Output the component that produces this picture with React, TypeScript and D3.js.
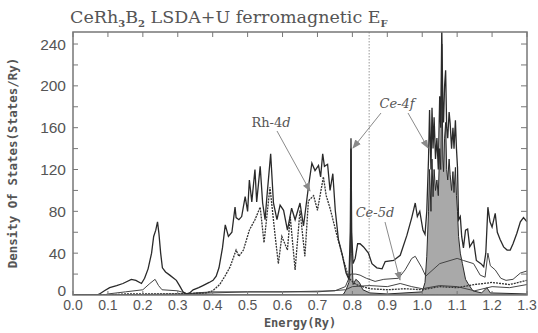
import React from "react";
import * as d3 from "d3";

type Pt = [number, number];

// Energy (Ry) / DOS (states/Ry) pairs
const totalDos: Pt[] = [
  [0, 0], [0.07, 0], [0.076, 1], [0.09, 4], [0.105, 7], [0.125, 9], [0.143, 11], [0.167, 15], [0.18, 14],
  [0.196, 11], [0.205, 16], [0.215, 25], [0.225, 40], [0.231, 56], [0.237, 62], [0.242, 70], [0.246, 59],
  [0.251, 40], [0.256, 26], [0.265, 22], [0.277, 19], [0.296, 14], [0.305, 9], [0.315, 3], [0.325, 1],
  [0.334, 2], [0.344, 5], [0.36, 7], [0.372, 9], [0.39, 12], [0.401, 14], [0.41, 18], [0.418, 26],
  [0.428, 45], [0.436, 67], [0.445, 56], [0.455, 60], [0.464, 84], [0.467, 74], [0.475, 72], [0.483, 75],
  [0.493, 94], [0.5, 80], [0.505, 110], [0.512, 89], [0.521, 120], [0.526, 89], [0.536, 123], [0.543, 88],
  [0.55, 72], [0.555, 93], [0.566, 135], [0.574, 88], [0.584, 72], [0.593, 86], [0.603, 81], [0.614, 62],
  [0.626, 83], [0.636, 72], [0.65, 88], [0.66, 66], [0.674, 103], [0.684, 126], [0.693, 119], [0.703, 124],
  [0.709, 113], [0.715, 135], [0.72, 123], [0.729, 125], [0.736, 100], [0.744, 116], [0.751, 81], [0.76, 53],
  [0.77, 40], [0.782, 21], [0.79, 15], [0.794, 60], [0.796, 150], [0.798, 60], [0.802, 30], [0.808, 35],
  [0.815, 49], [0.822, 49], [0.832, 46], [0.846, 40], [0.856, 30], [0.87, 26], [0.885, 25], [0.894, 32],
  [0.918, 33], [0.937, 38], [0.956, 57], [0.97, 74], [0.98, 88], [0.986, 75], [0.993, 80], [1.002, 62],
  [1.008, 58], [1.013, 80], [1.018, 130], [1.021, 177], [1.025, 120], [1.028, 179], [1.031, 140],
  [1.034, 170], [1.038, 130], [1.042, 150], [1.046, 120], [1.05, 190], [1.053, 160], [1.056, 255],
  [1.059, 180], [1.061, 165], [1.064, 200], [1.067, 215], [1.07, 160], [1.073, 150], [1.077, 175],
  [1.08, 164], [1.084, 140], [1.088, 160], [1.091, 140], [1.095, 167], [1.098, 140], [1.101, 122],
  [1.104, 72], [1.109, 75], [1.113, 56], [1.118, 45], [1.124, 62], [1.13, 63], [1.136, 46], [1.147, 52],
  [1.155, 33], [1.168, 30], [1.176, 27], [1.182, 40], [1.188, 84], [1.194, 70], [1.2, 65], [1.209, 78],
  [1.215, 60], [1.223, 53], [1.233, 46], [1.243, 43], [1.252, 43], [1.26, 49], [1.271, 59], [1.281, 70],
  [1.29, 74], [1.3, 70],
];

const rh4dDos: Pt[] = [
  [0, 0], [0.1, 0], [0.15, 1], [0.2, 1], [0.3, 1], [0.38, 2], [0.4, 4], [0.42, 10], [0.435, 18], [0.45, 27],
  [0.467, 43], [0.475, 37], [0.488, 43], [0.505, 62], [0.521, 72], [0.536, 84], [0.547, 50], [0.564, 103],
  [0.579, 56], [0.588, 30], [0.598, 56], [0.614, 43], [0.622, 75], [0.636, 24], [0.65, 81], [0.664, 37],
  [0.674, 90], [0.689, 95], [0.7, 81], [0.717, 113], [0.725, 95], [0.736, 83], [0.755, 58], [0.775, 33],
  [0.79, 16], [0.81, 10], [0.85, 6], [0.9, 5], [0.95, 6], [1.0, 5], [1.05, 8], [1.1, 7], [1.15, 10],
  [1.2, 12], [1.25, 10], [1.3, 14],
];

const ce4fDos: Pt[] = [
  [0, 0], [0.77, 0], [0.775, 1], [0.782, 5], [0.79, 12], [0.794, 40], [0.796, 140], [0.798, 40],
  [0.802, 10], [0.81, 15], [0.82, 12], [0.83, 5], [0.85, 2], [0.9, 1], [1.0, 3], [1.008, 12], [1.013, 37],
  [1.018, 80], [1.021, 120], [1.025, 80], [1.028, 130], [1.031, 94], [1.034, 120], [1.038, 100],
  [1.042, 110], [1.046, 95], [1.05, 140], [1.053, 120], [1.056, 240], [1.059, 130], [1.061, 118],
  [1.064, 150], [1.067, 165], [1.07, 120], [1.073, 110], [1.077, 130], [1.08, 115], [1.084, 100],
  [1.088, 118], [1.091, 98], [1.095, 122], [1.098, 95], [1.101, 80], [1.104, 56], [1.109, 40],
  [1.115, 30], [1.124, 15], [1.131, 11], [1.145, 4], [1.17, 2], [1.185, 7], [1.195, 2], [1.3, 1],
];

const ce5dDos: Pt[] = [
  [0, 0], [0.1, 0], [0.3, 1], [0.4, 2], [0.5, 3], [0.7, 3], [0.78, 5], [0.8, 8], [0.85, 9], [0.9, 8],
  [0.937, 11], [0.97, 8], [1.0, 6], [1.05, 9], [1.1, 8], [1.15, 4], [1.2, 8], [1.25, 7], [1.3, 10],
];

const otherDos: Pt[] = [
  [0, 0], [0.09, 0], [0.1, 1], [0.15, 3], [0.2, 5], [0.22, 11], [0.235, 15], [0.245, 9], [0.255, 5],
  [0.3, 4], [0.33, 1], [0.35, 2], [0.4, 3], [0.5, 3], [0.6, 3], [0.75, 4], [0.78, 8], [0.795, 20],
  [0.81, 20], [0.822, 19], [0.84, 16], [0.865, 13], [0.89, 15], [0.932, 16], [0.951, 24], [0.97, 35],
  [0.98, 37], [0.999, 26], [1.01, 18], [1.05, 30], [1.1, 35], [1.118, 33], [1.147, 30], [1.166, 19],
  [1.18, 17], [1.188, 40], [1.195, 28], [1.209, 24], [1.225, 16], [1.24, 14], [1.26, 15], [1.281, 21],
  [1.3, 23],
];

const xTicks = [0, 0.1, 0.2, 0.3, 0.4, 0.5, 0.6, 0.7, 0.8, 0.9, 1.0, 1.1, 1.2, 1.3];
const yTickLabels = [0, 40, 80, 120, 160, 200, 240];
const yMinorTicks = [20, 40, 60, 80, 100, 120, 140, 160, 180, 200, 220, 240];
const fermiEnergy = 0.848;

const W = 538;
const H = 333;
const L = 73, R = 527, T = 32, B = 295;

export default function App() {
  const x = d3.scaleLinear().domain([0, 1.3]).range([L, R]);
  const y = d3.scaleLinear().domain([0, 251.5]).range([B, T]);
  const line = d3.line<Pt>().x((d) => x(d[0])).y((d) => y(d[1]));
  const area = d3.area<Pt>().x((d) => x(d[0])).y0(y(0)).y1((d) => y(d[1]));
  const axisColor = "#777";
  const textColor = "#555";
  const arrowColor = "#8a8a8a";

  return (
    <svg width={W} height={H} style={{ position: "absolute", left: 0, top: 0 }}>
      <defs>
        <clipPath id="plot">
          <rect x={L} y={T} width={R - L} height={B - T} />
        </clipPath>
        <marker id="ah" viewBox="0 0 10 10" refX="9" refY="5" markerWidth="9" markerHeight="9" orient="auto" markerUnits="userSpaceOnUse">
          <path d="M0,1 L10,5 L0,9 Z" fill={arrowColor} />
        </marker>
      </defs>
      <rect width={W} height={H} fill="#fff" />

      {/* title */}
      <text x={70} y={23} fontFamily="DejaVu Serif, serif" fontSize={17.5} fill={textColor}>
        CeRh<tspan fontSize={10} dy={4} fontWeight="bold">3</tspan>
        <tspan dy={-4}>B</tspan>
        <tspan fontSize={10} dy={4} fontWeight="bold">2</tspan>
        <tspan dy={-4}> LSDA+U ferromagnetic E</tspan>
        <tspan fontSize={10} dy={4} fontWeight="bold">F</tspan>
      </text>

      <g clipPath="url(#plot)">
        <line x1={x(fermiEnergy)} x2={x(fermiEnergy)} y1={T} y2={B} stroke="#999" strokeWidth={1} strokeDasharray="1.5,1.5" />
        <path d={area(ce4fDos) ?? ""} fill="#a9a9a9" stroke="#2a2a2a" strokeWidth={1} />
        <path d={line(otherDos) ?? ""} fill="none" stroke="#444" strokeWidth={1} />
        <path d={line(ce5dDos) ?? ""} fill="none" stroke="#444" strokeWidth={1} />
        <path d={line(rh4dDos) ?? ""} fill="none" stroke="#333" strokeWidth={1.3} strokeDasharray="2,1" />
        <path d={line(totalDos) ?? ""} fill="none" stroke="#2a2a2a" strokeWidth={1.3} />
      </g>

      {/* frame */}
      <rect x={L} y={T} width={R - L} height={B - T} fill="none" stroke={axisColor} strokeWidth={1.5} />

      {/* ticks */}
      {xTicks.map((t) => (
        <g key={"xt" + t}>
          <line x1={x(t)} x2={x(t)} y1={T} y2={T + 5} stroke={axisColor} strokeWidth={1} />
          <line x1={x(t)} x2={x(t)} y1={B} y2={B - 4} stroke={axisColor} strokeWidth={1} />
          <text x={x(t)} y={310} textAnchor="middle" fontFamily="Liberation Sans, Arial, sans-serif" fontSize={14} fill={textColor}>
            {t.toFixed(1)}
          </text>
        </g>
      ))}
      {yMinorTicks.map((t) => (
        <g key={"yt" + t}>
          <line x1={L} x2={L + 5} y1={y(t)} y2={y(t)} stroke={axisColor} strokeWidth={1} />
          <line x1={R} x2={R - 6} y1={y(t)} y2={y(t)} stroke={axisColor} strokeWidth={1} />
        </g>
      ))}
      {yTickLabels.map((t) => (
        <text key={"yl" + t} x={66} y={y(t) + (t === 0 ? 1 : 5.5)} textAnchor="end" fontFamily="Liberation Sans, Arial, sans-serif" fontSize={15.5} fill={textColor}>
          {t}
        </text>
      ))}

      {/* axis titles */}
      <text x={300} y={327} textAnchor="middle" fontFamily="DejaVu Sans Mono, monospace" fontSize={12} fontWeight="bold" fill={textColor}>
        Energy(Ry)
      </text>
      <text transform="translate(17,163) rotate(-90)" textAnchor="middle" fontFamily="DejaVu Sans Mono, monospace" fontSize={12.5} fontWeight="bold" fill={textColor}>
        Density Of States(States/Ry)
      </text>

      {/* annotations */}
      <text x={271} y={127} textAnchor="middle" fontFamily="DejaVu Serif, serif" fontSize={13} fill={textColor}>
        Rh-4<tspan fontStyle="italic">d</tspan>
      </text>
      <line x1={277} y1={131} x2={310} y2={191} stroke={arrowColor} strokeWidth={1} markerEnd="url(#ah)" />

      <text x={397} y={108} textAnchor="middle" fontFamily="DejaVu Serif, serif" fontSize={13} fontStyle="italic" fill={textColor}>
        Ce-4f
      </text>
      <line x1={381} y1={113} x2={353} y2={148} stroke={arrowColor} strokeWidth={1} markerEnd="url(#ah)" />
      <line x1={408} y1={113} x2={428} y2={148} stroke={arrowColor} strokeWidth={1} markerEnd="url(#ah)" />

      <text x={375} y={217} textAnchor="middle" fontFamily="DejaVu Serif, serif" fontSize={13} fontStyle="italic" fill={textColor}>
        Ce-5d
      </text>
      <line x1={385} y1={222} x2={400} y2={280} stroke={arrowColor} strokeWidth={1} markerEnd="url(#ah)" />
    </svg>
  );
}
